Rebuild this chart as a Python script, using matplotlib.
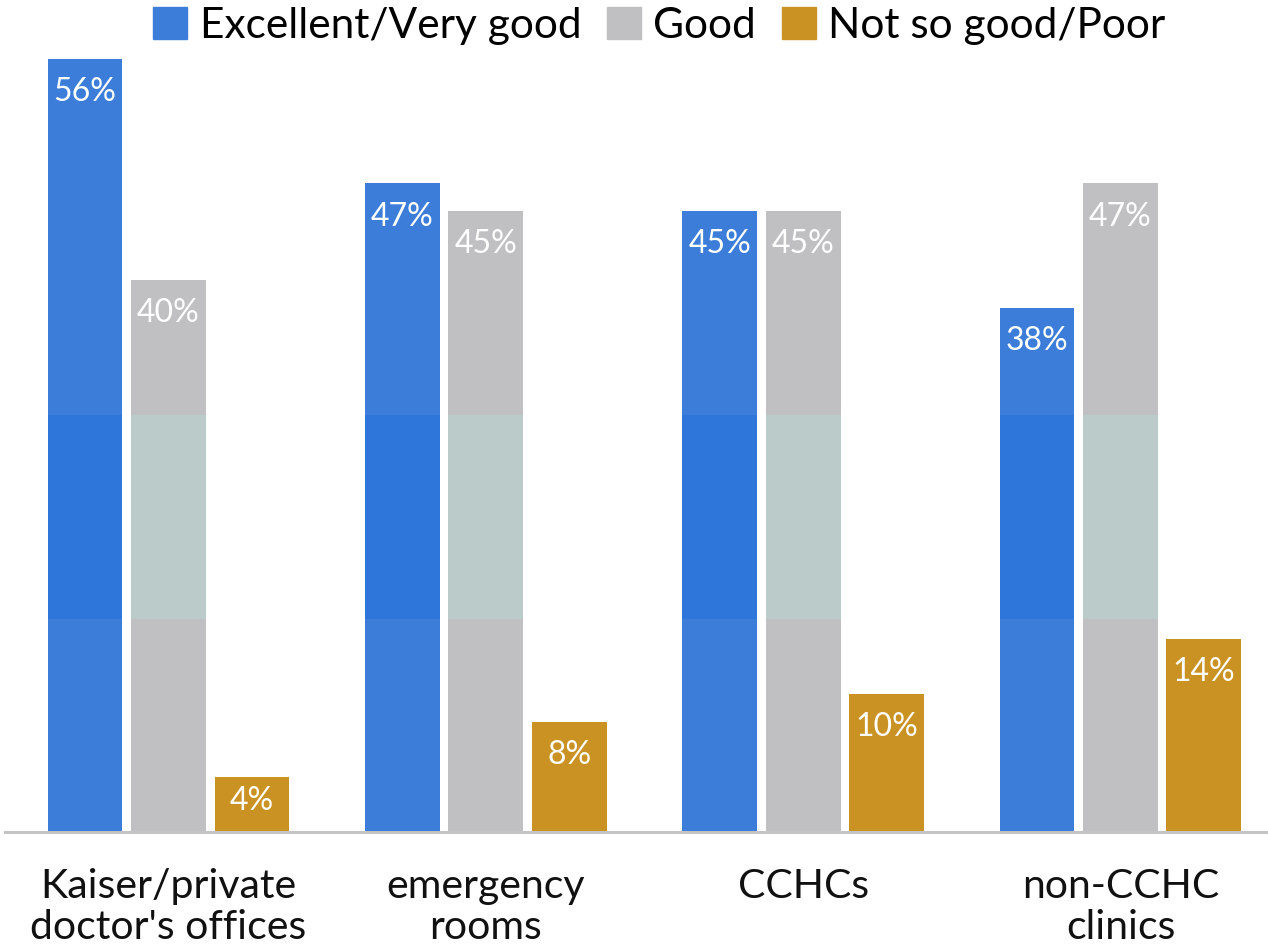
import matplotlib.pyplot as plt
import matplotlib.patches as mpatches
import numpy as np

plt.rcParams['font.family'] = ['Lato', 'DejaVu Sans']

categories = ["Kaiser/private\ndoctor's offices", "emergency\nrooms", "CCHCs", "non-CCHC\nclinics"]
series = ['Excellent/Very good', 'Good', 'Not so good/Poor']
excellent = [56, 47, 45, 38]
good = [40, 45, 45, 47]
poor = [4, 8, 10, 14]

colors = ['#3b7dd8', '#c0c0c2', '#c99223']
band_colors = ['#2f76db', '#bacbca', '#c99223']
band_lo, band_hi = 15.4, 30.2

fig = plt.figure(figsize=(12.68, 9.49), dpi=100)
ax = fig.add_axes([0.004, 0.1233, 0.996, 0.8725])

x = np.arange(len(categories))
width = 0.236
step = 0.263

for i, (vals, col, bcol) in enumerate(zip([excellent, good, poor], colors, band_colors)):
    pos = x + (i - 1) * step
    ax.bar(pos, vals, width, color=col, linewidth=0)
    # the faint horizontal band seen in the picture
    vals_arr = np.array(vals, dtype=float)
    h = np.clip(vals_arr, band_lo, band_hi) - band_lo
    ax.bar(pos, h, width, bottom=band_lo, color=bcol, linewidth=0)
    for p, v in zip(pos, vals):
        ax.text(p, v - min(2.4, v * 0.43), f'{v}%', ha='center', va='center',
                color='white', fontsize=23)

ax.set_xlim(-0.515, 3.465)
ax.set_ylim(0, 60)
ax.set_xticks(x)
ax.set_xticklabels(categories, fontsize=29.5, color='#111111', linespacing=1.12)
ax.tick_params(axis='x', length=0, pad=26)
ax.set_yticks([])
for s in ['top', 'right', 'left']:
    ax.spines[s].set_visible(False)
ax.spines['bottom'].set_color('#c4c4c4')
ax.spines['bottom'].set_linewidth(2.2)

handles = [mpatches.Patch(color=c, label=s) for c, s in zip(colors, series)]
fig.legend(handles=handles, loc='center', bbox_to_anchor=(0.52, 0.973), ncol=3,
           frameon=False, fontsize=30.5, handlelength=0.8, handleheight=0.8,
           handletextpad=0.3, columnspacing=0.6)

fig.savefig('out.png', dpi=100)
